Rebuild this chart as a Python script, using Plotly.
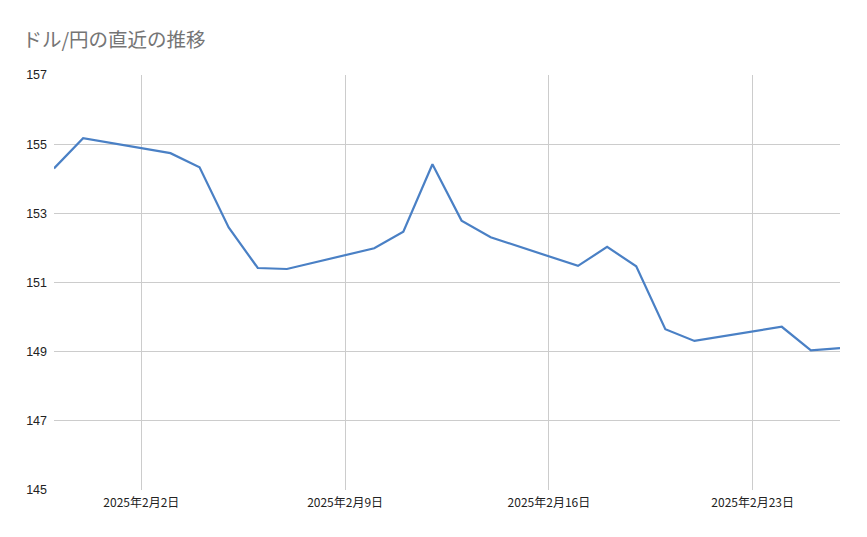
import plotly.graph_objects as go

dates = ["2025-01-30", "2025-01-31", "2025-02-03", "2025-02-04", "2025-02-05",
         "2025-02-06", "2025-02-07", "2025-02-10", "2025-02-11", "2025-02-12",
         "2025-02-13", "2025-02-14", "2025-02-17", "2025-02-18", "2025-02-19",
         "2025-02-20", "2025-02-21", "2025-02-24", "2025-02-25", "2025-02-26"]
usd_jpy = [154.30, 155.17, 154.74, 154.33, 152.59,
           151.42, 151.39, 151.99, 152.47, 154.42,
           152.79, 152.31, 151.48, 152.03, 151.47,
           149.65, 149.31, 149.72, 149.04, 149.10]

x_tickvals = ["2025-02-02", "2025-02-09", "2025-02-16", "2025-02-23"]
x_ticktext = ["2025年2月2日", "2025年2月9日", "2025年2月16日", "2025年2月23日"]
y_tickvals = [145, 147, 149, 151, 153, 155, 157]

title_text = "ドル/円の直近の推移"

fig = go.Figure(go.Scatter(
    x=dates, y=usd_jpy, mode="lines",
    line=dict(color="#4a80c5", width=2.2),
    hoverinfo="x+y",
))

font_family = "Liberation Sans, Arial, Noto Sans CJK JP, sans-serif"

fig.update_layout(
    width=867, height=537,
    margin=dict(l=46, r=35, t=67, b=55),
    paper_bgcolor="white", plot_bgcolor="white",
    showlegend=False,
    font=dict(family=font_family, size=12, color="#222222"),
    title=dict(text=title_text, x=0.0167, xanchor="left", y=0.941, yanchor="middle",
               font=dict(family="Noto Sans CJK JP, sans-serif", size=19.5, color="#757575")),
    xaxis=dict(
        type="date",
        range=["2025-01-30", "2025-02-26"],
        tickmode="array", tickvals=x_tickvals, ticktext=x_ticktext,
        showgrid=True, gridcolor="#cccccc", gridwidth=1,
        zeroline=False, showline=False, ticks="",
        ticklabelstandoff=4,
        tickfont=dict(family="Noto Sans CJK JP, sans-serif", size=12, color="#222222"),
    ),
    yaxis=dict(
        range=[145, 157],
        tickmode="array", tickvals=y_tickvals,
        showgrid=True, gridcolor="#cccccc", gridwidth=1,
        zeroline=False, showline=False, ticks="",
        ticklabelstandoff=6,
        tickfont=dict(family=font_family, size=12.5, color="#222222"),
    ),
)

fig.write_html("out.html")
